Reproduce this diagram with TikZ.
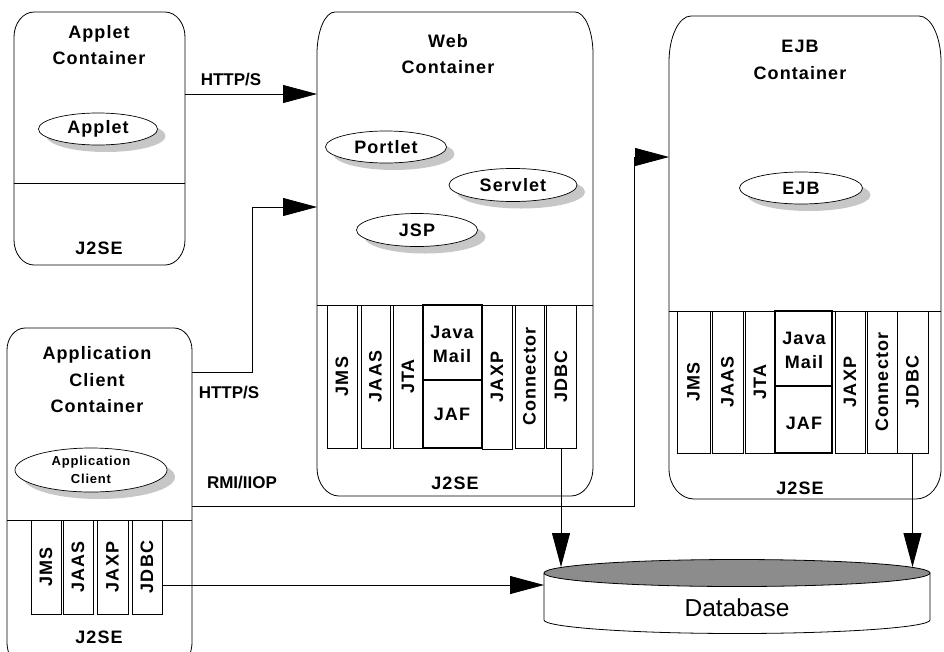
\documentclass[tikz,border=0pt]{standalone}
\usepackage{fontspec}
\setmainfont{Liberation Sans}
\newfontfamily\lblfont{Liberation Sans}[LetterSpace=6]
\usetikzlibrary{arrows.meta,shadows,shapes.geometric}

\tikzset{
  cont/.style={draw=black, line width=0.8pt},
  lbl/.style={font=\lblfont\bfseries\fontsize{18}{26.5}\selectfont, align=center, inner sep=0pt},
  connlbl/.style={font=\bfseries\fontsize{17}{20}\selectfont, inner sep=0pt},
  col/.style={draw=black, line width=0.8pt, fill=white},
  thickcol/.style={draw=black, line width=1.4pt, fill=white},
  collbl/.style={lbl, rotate=90},
  comp/.style={ellipse, draw=black, line width=0.7pt, fill=white, inner sep=0pt,
    font=\lblfont\bfseries\fontsize{18}{20}\selectfont,
    general shadow={fill=black!22, shadow xshift=8pt, shadow yshift=-7pt}},
  conn/.style={draw=black, line width=0.8pt, -{Triangle[length=34pt,width=18pt]}},
}

% container outline: x1,y1,x2,y2, top rx, top ry, bottom rx, bottom ry
\newcommand{\contbox}[8]{%
  \draw[cont] (#1,#2+#6) .. controls (#1,#2+0.45*#6) and (#1+0.45*#5,#2) .. (#1+#5,#2)
    -- (#3-#5,#2) .. controls (#3-0.45*#5,#2) and (#3,#2+0.45*#6) .. (#3,#2+#6)
    -- (#3,#4-#8) .. controls (#3,#4-0.45*#8) and (#3-0.45*#7,#4) .. (#3-#7,#4)
    -- (#1+#7,#4) .. controls (#1+0.45*#7,#4) and (#1,#4-0.45*#8) .. (#1,#4-#8) -- cycle;}
% column: name, x1, y1, x2, y2, label
\newcommand{\colbox}[6]{%
  \draw[col] (#2,#3) rectangle (#4,#5);
  \node[collbl] (#1) at ({(#2+#4)/2},{(#3+#5)/2}) {#6};}

\begin{document}
\begin{tikzpicture}[x=1pt,y=-1pt]
\useasboundingbox (0,0) rectangle (944,651);

% ---------------- Applet container ----------------
\contbox{14}{12}{185}{265}{20}{25}{20}{25}
\draw[cont] (14,183) -- (185,183);
\node[lbl] (applettitle) at (99,45) {Applet\\Container};
\node[comp, minimum width=119pt, minimum height=32pt] (applet) at (98,129) {Applet};
\node[lbl] (appletj2se) at (99,248) {J2SE};
\coordinate (appletout) at (185,94);

% ---------------- Web container ----------------
\contbox{317}{12}{593}{496}{18}{42}{22}{28}
\draw[cont] (317,305) -- (593,305);
\node[lbl] (webtitle) at (448,54) {Web\\Container};
\node[comp, minimum width=121pt, minimum height=32pt] (portlet) at (386,147) {Portlet};
\node[comp, minimum width=128pt, minimum height=33pt] (servlet) at (513,185) {Servlet};
\node[comp, minimum width=121pt, minimum height=33pt] (jsp) at (417,230) {JSP};
\colbox{wjms}{327}{305}{357}{448}{JMS}
\colbox{wjaas}{361}{305}{390}{448}{JAAS}
\colbox{wjta}{393}{305}{423}{448}{JTA}
\draw[thickcol] (423,305) rectangle (482,448);
\draw[thickcol] (423,380) -- (482,380);
\node[lbl, font=\lblfont\bfseries\fontsize{18}{24}\selectfont] (wjavamail) at (452,344) {Java\\Mail};
\node[lbl] (wjaf) at (452,414) {JAF};
\colbox{wjaxp}{482}{305}{512}{449}{JAXP}
\colbox{wconn}{515}{305}{544}{448}{Connector}
\colbox{wjdbc}{546}{305}{576}{448}{JDBC}
\node[lbl] (webj2se) at (455,483) {J2SE};
\coordinate (webin1) at (317,94);
\coordinate (webin2) at (317,207);
\coordinate (webjdbcout) at (561,448);

% ---------------- EJB container ----------------
\contbox{669}{16}{941}{499}{22}{46}{25}{30}
\draw[cont] (669,311) -- (941,311);
\node[lbl] (ejbtitle) at (800,60) {EJB\\Container};
\node[comp, minimum width=123pt, minimum height=32pt] (ejb) at (801,188) {EJB};
\colbox{ejms}{677}{311}{710}{453}{JMS}
\colbox{ejaas}{712}{311}{743}{453}{JAAS}
\colbox{ejta}{745}{311}{775}{453}{JTA}
\draw[thickcol] (775,311) rectangle (832,453);
\draw[thickcol] (775,386) -- (832,386);
\node[lbl, font=\lblfont\bfseries\fontsize{18}{24}\selectfont] (ejavamail) at (804,350) {Java\\Mail};
\node[lbl] (ejaf) at (804,423) {JAF};
\colbox{ejaxp}{835}{311}{865}{453}{JAXP}
\colbox{econn}{867}{311}{897}{453}{Connector}
\colbox{ejdbc}{897}{311}{928}{453}{JDBC}
\node[lbl] (ejbj2se) at (800,488) {J2SE};
\coordinate (ejbin) at (669,157);
\coordinate (ejbjdbcout) at (912.5,453);

% ---------------- Application client container ----------------
\contbox{7}{328}{192}{672}{18}{22}{25}{30}
\draw[cont] (7,520) -- (192,520);
\node[lbl] (apptitle) at (97,380) {Application\\Client\\Container};
\node[comp, minimum width=152pt, minimum height=44pt, font=\lblfont\bfseries\fontsize{13}{18}\selectfont, align=center] (appclient) at (91,470) {Application\\Client};
\colbox{ajms}{31}{520}{61}{614}{JMS}
\colbox{ajaas}{63}{520}{93}{614}{JAAS}
\colbox{ajaxp}{97}{520}{128}{614}{JAXP}
\colbox{ajdbc}{132}{520}{162}{614}{JDBC}
\node[lbl] (appj2se) at (99,637) {J2SE};
\coordinate (appout1) at (192,372);
\coordinate (appout2) at (192,506);
\coordinate (appjdbcout) at (162,585);

% ---------------- Database ----------------
\draw[cont, fill=white] (544,573) -- (544,620)
  .. controls (544,627.2) and (630.5,633.5) .. (737,633.5)
  .. controls (843.5,633.5) and (930,627.2) .. (930,620) -- (930,573);
\draw[cont, fill=black!45] (737,573) ellipse [x radius=193pt, y radius=13.5pt];
\node[font=\fontsize{24.5}{28}\selectfont, inner sep=0pt] (db) at (737,608) {Database};
\coordinate (dbleft) at (544,585);
\coordinate (dbtop1) at (561,567);
\coordinate (dbtop2) at (912.5,567);

% ---------------- Connectors ----------------
\draw[conn] (appletout) -- (webin1);
\node[connlbl] (http1) at (231,80) {HTTP/S};
\draw[conn] (appout1) -- ++(60,0) |- (webin2);
\node[connlbl] (http2) at (229,393) {HTTP/S};
\draw[conn] (appout2) -- ++(442,0) |- (ejbin);
\node[connlbl] (rmi) at (242,483) {RMI/IIOP};
\draw[conn] (appjdbcout) -- (dbleft);
\draw[conn] (webjdbcout) -- (dbtop1);
\draw[conn] (ejbjdbcout) -- (dbtop2);
\end{tikzpicture}
\end{document}
